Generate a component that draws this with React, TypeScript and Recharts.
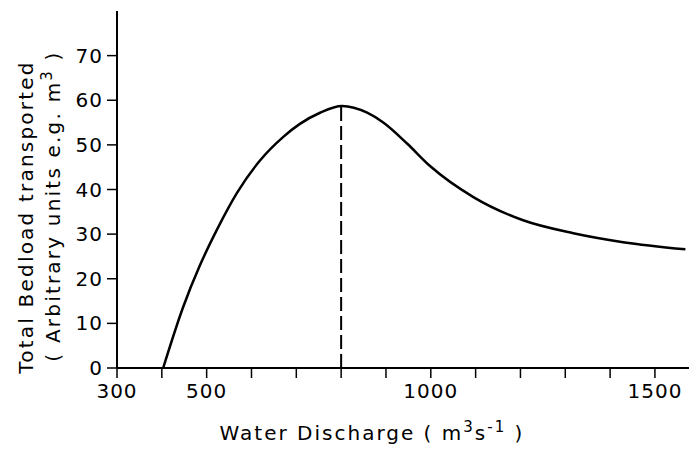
import { LineChart, Line, XAxis, YAxis, ReferenceLine, Label } from 'recharts';

// Water discharge (m3/s) and bedload
const discharge = [403, 447, 485, 523, 568, 619, 671, 708, 753, 802, 858, 894, 947, 999, 1095, 1206, 1318, 1429, 1568];
const bedload = [0, 13.5, 23, 31, 39.3, 46.5, 51.8, 54.7, 57.2, 58.7, 57.2, 55, 50.3, 45.2, 38.3, 33.1, 30.2, 28.2, 26.6];

const xTicks = [300, 400, 500, 600, 700, 800, 900, 1000, 1100, 1200, 1300, 1400, 1500];
const xLabelled = [300, 500, 1000, 1500];
const yTicks = [0, 10, 20, 30, 40, 50, 60, 70];
const peakDischarge = 800;
const peakBedload = 58.7;

const data = discharge.map((q, i) => ({ q, load: bedload[i] }));

const FONT = '"DejaVu Sans", sans-serif';

function XTick({ x, y, payload }: any) {
  if (!xLabelled.includes(payload.value)) return null;
  return (
    <text x={x} y={y} dy={16} textAnchor="middle" fontFamily={FONT} fontSize={20} letterSpacing={1} fill="#000">
      {payload.value}
    </text>
  );
}

function XTitle() {
  return (
    <text x={372} y={440} textAnchor="middle" fontFamily={FONT} fontSize={20} letterSpacing={2} fill="#000">
      Water Discharge ( m<tspan dy={-8} fontSize={15}>3</tspan>
      <tspan dy={8}>s</tspan>
      <tspan dy={-8} fontSize={15}>-1</tspan>
      <tspan dy={8}> )</tspan>
    </text>
  );
}

function YTitle() {
  return (
    <g fontFamily={FONT} fontSize={20} letterSpacing={2.2} fill="#000">
      <text x={0} y={0} textAnchor="middle" transform="translate(33 217) rotate(-90)">
        Total Bedload transported
      </text>
      <text x={0} y={0} textAnchor="middle" transform="translate(60 206) rotate(-90)">
        ( Arbitrary units e.g. m<tspan dy={-8} fontSize={15}>3</tspan>
        <tspan dy={8}> )</tspan>
      </text>
    </g>
  );
}

export default function App() {
  return (
    <div style={{ position: 'absolute', left: 0, top: 0, background: '#fff' }}>
      <LineChart width={689} height={453} data={data} margin={{ top: 11, right: 0, bottom: 0, left: 0 }}>
        <XAxis
          dataKey="q"
          type="number"
          domain={[300, 1576]}
          ticks={xTicks}
          interval={0}
          height={85}
          tick={<XTick />}
          tickSize={10}
          tickMargin={4}
          axisLine={{ stroke: '#000', strokeWidth: 2 }}
          tickLine={{ stroke: '#000', strokeWidth: 1.5 }}
          allowDataOverflow
        >
          <Label content={<XTitle />} />
        </XAxis>
        <YAxis
          type="number"
          domain={[0, 80]}
          ticks={yTicks}
          interval={0}
          width={117}
          tickSize={10}
          tickMargin={4}
          tick={{ fontFamily: FONT, fontSize: 20, fill: '#000', letterSpacing: 1 }}
          axisLine={{ stroke: '#000', strokeWidth: 2 }}
          tickLine={{ stroke: '#000', strokeWidth: 1.5 }}
        >
          <Label content={<YTitle />} />
        </YAxis>
        <ReferenceLine
          segment={[{ x: peakDischarge, y: 0 }, { x: peakDischarge, y: peakBedload }]}
          stroke="#000"
          strokeWidth={2}
          strokeDasharray="14 5"
        />
        <Line
          type="monotone"
          dataKey="load"
          stroke="#000"
          strokeWidth={2.5}
          dot={false}
          isAnimationActive={false}
        />
      </LineChart>
    </div>
  );
}
